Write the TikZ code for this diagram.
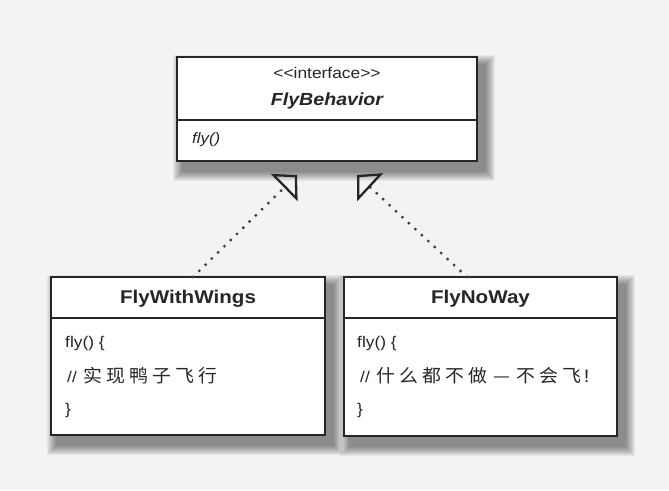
\documentclass[tikz,border=0pt]{standalone}
\usepackage{fontspec}
\setmainfont{Liberation Sans}[FakeStretch=1.12]
\newfontfamily\cjk{Noto Sans CJK SC}[FakeStretch=1.05]
\usetikzlibrary{arrows.meta}
\definecolor{bgc}{RGB}{243,243,243}
\definecolor{ink}{RGB}{38,38,38}
\newcommand\ck{\kern4pt}
\pgfdeclarelayer{back}
\pgfsetlayers{back,main}
\tikzset{
  umlbox/.style={draw=ink, line width=1.5pt, fill=white, inner sep=0pt, rectangle},
  txt/.style={text=ink, inner sep=0pt},
  realize/.style={ink!90, line width=3.2pt, dash pattern=on 0pt off 8.8pt, line cap=round,
    -{Triangle[open, sharp, length=18pt, width=38pt, line width=2.3pt, color=ink]}},
  sep/.style={draw=ink, line width=1.3pt}
}
\begin{document}
\begin{tikzpicture}[x=1pt,y=-1pt]
\useasboundingbox (0,0) rectangle (669,490);
% boxes
\node[umlbox, minimum width=300pt, minimum height=104pt] (top) at (327,109) {};
\node[umlbox, minimum width=274pt, minimum height=158pt] (lbox) at (188,356) {};
\node[umlbox, minimum width=273pt, minimum height=159pt] (rbox) at (480.5,356.5) {};
% separators
\draw[sep] (top.west |- 0,120) -- (top.east |- 0,120);
\draw[sep] (lbox.west |- 0,318) -- (lbox.east |- 0,318);
\draw[sep] (rbox.west |- 0,318) -- (rbox.east |- 0,318);
% texts top
\node[txt, font=\fontsize{15.5}{18}\selectfont] (stereo) at (327,73) {<{}<interface>{}>};
\node[txt, font=\fontsize{17.5}{20}\selectfont\bfseries\itshape] (tname) at (327,101) {FlyBehavior};
\node[txt, anchor=west, font=\fontsize{15}{18}\selectfont\itshape] (tfly) at (192,140) {fly()};
% left box
\node[txt, font=\fontsize{18.4}{22}\selectfont\bfseries] (lname) at (188,299) {FlyWithWings};
\node[txt, anchor=west, font=\fontsize{15.5}{18}\selectfont] (l1) at (65,343) {fly() \{};
\node[txt, anchor=west, font=\fontsize{15.5}{18}\selectfont] (l2) at (67,376) {//\kern7pt{\cjk\fontsize{18}{20}\selectfont 实\ck 现\ck 鸭\ck 子\ck 飞\ck 行}};
\node[txt, anchor=west, font=\fontsize{15.5}{18}\selectfont] (l3) at (65,410) {\}};
% right box
\node[txt, font=\fontsize{18.4}{22}\selectfont\bfseries] (rname) at (480.5,299) {FlyNoWay};
\node[txt, anchor=west, font=\fontsize{15.5}{18}\selectfont] (r1) at (357,343) {fly() \{};
\node[txt, anchor=west, font=\fontsize{15.5}{18}\selectfont] (r2) at (360,376) {//\kern7pt{\cjk\fontsize{18}{20}\selectfont 什\ck 么\ck 都\ck 不\ck 做\kern6pt —\kern6pt 不\ck 会\ck 飞}\kern3pt{\fontsize{18}{20}\selectfont !}};
\node[txt, anchor=west, font=\fontsize{15.5}{18}\selectfont] (r3) at (357,410) {\}};
% connectors
\coordinate (tipL) at (297,175);
\coordinate (tipR) at (357,175);
\coordinate (startL) at (193,277);
\coordinate (startR) at (467,277);
\draw[realize] (startL) -- (tipL);
\draw[realize] (startR) -- (tipR);
% background and shadows
\begin{pgfonlayer}{back}
  \fill[bgc] (0,0) rectangle (669,490);
  \foreach \n in {top,lbox,rbox}{
    \foreach \r in {1,...,10}{
      \fill[black, opacity=0.05] ([shift={(7-\r,9-\r)}]\n.north west) rectangle ([shift={(7+\r,9+\r)}]\n.south east);
    }
  }
\end{pgfonlayer}
\end{tikzpicture}
\end{document}
